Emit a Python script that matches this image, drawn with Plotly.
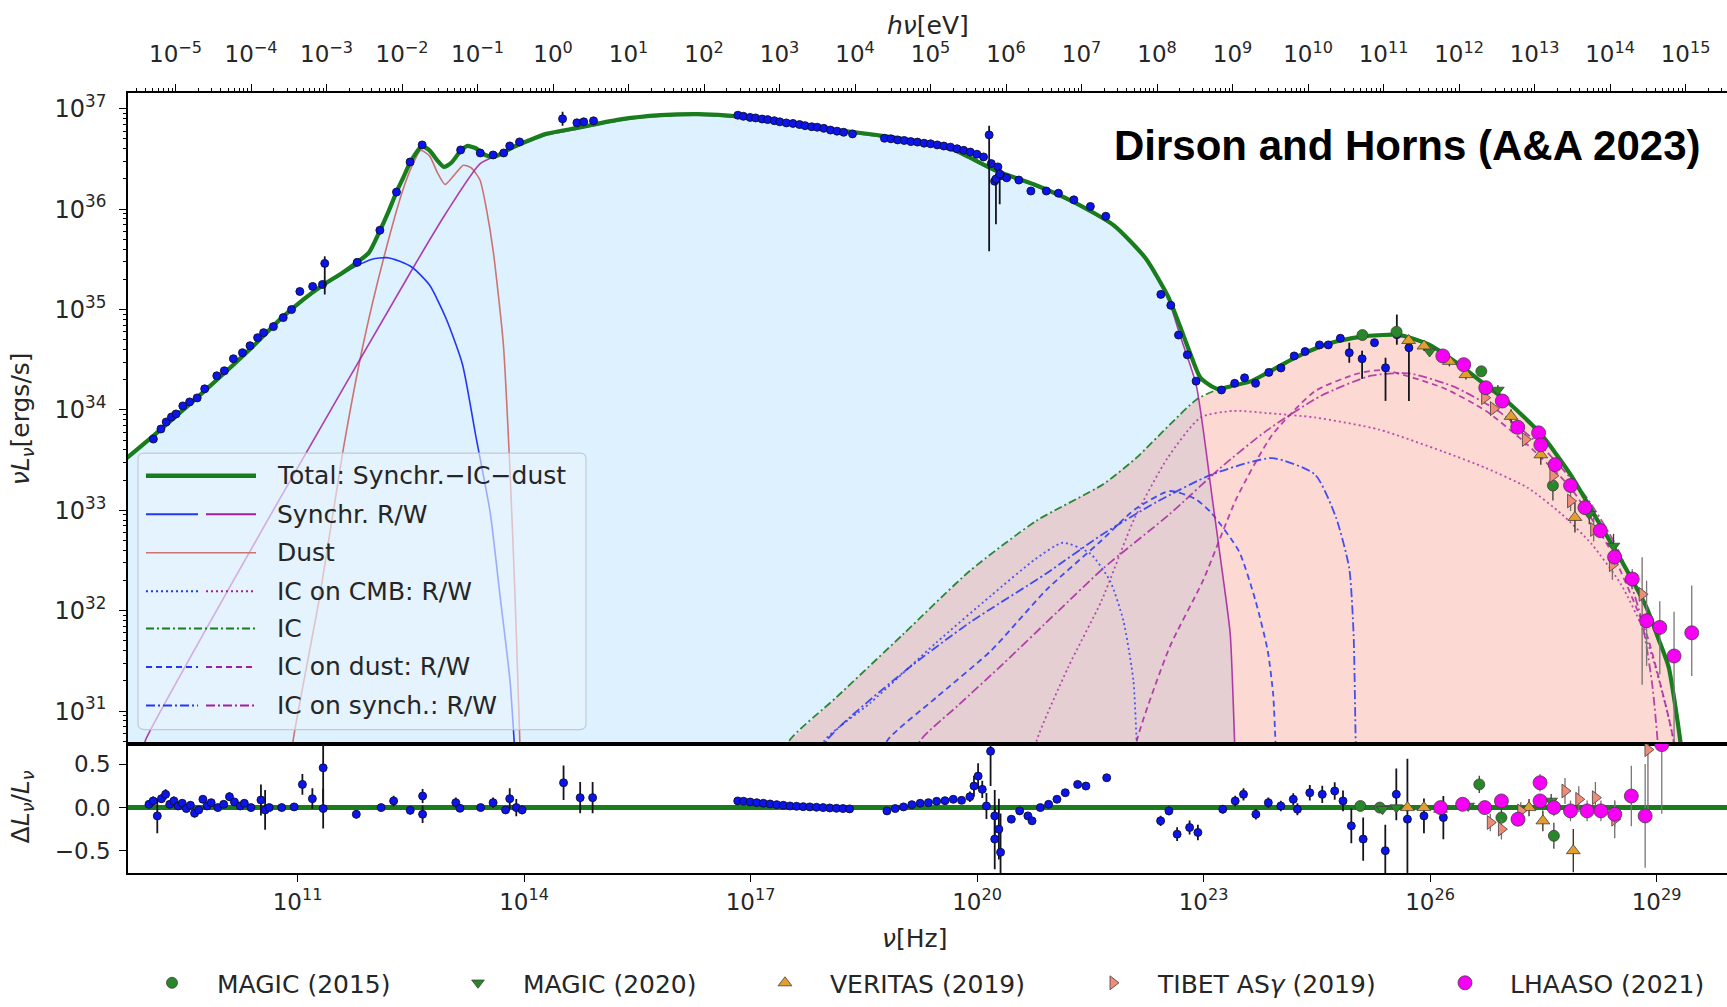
import numpy as np
import plotly.graph_objects as go

# ------------------------------------------------------------------
# Model curves: log10(nu / Hz) and log10(nu L_nu / erg s^-1)
# ------------------------------------------------------------------
total_lognu = [8.736, 9.101, 9.538, 9.976, 10.414, 10.764, 11.070, 11.347, 11.581, 11.785, 11.945, 12.091,
               12.208, 12.310, 12.398, 12.485, 12.573, 12.646, 12.748, 12.850, 12.938, 13.040, 13.142, 13.244,
               13.361, 13.477, 13.594, 13.725, 13.857, 14.061, 14.294, 14.746, 15.257, 15.811, 16.307, 16.832,
               17.620, 18.671, 19.312, 19.706, 20.232, 20.757, 21.282, 21.807, 22.230, 22.537, 22.682, 22.814,
               22.960, 23.178, 23.397, 23.631, 23.908, 24.200, 24.491, 24.754, 25.148, 25.600, 25.994, 26.446,
               26.723, 27.015, 27.467, 27.861, 28.197, 28.532, 28.868, 29.028, 29.160, 29.247, 29.320, 29.38]
total_logL = [33.520, 33.750, 34.035, 34.330, 34.637, 34.900, 35.097, 35.250, 35.359, 35.469, 35.567, 35.786,
              35.983, 36.170, 36.312, 36.454, 36.564, 36.629, 36.586, 36.487, 36.421, 36.465, 36.564, 36.629,
              36.607, 36.542, 36.520, 36.564, 36.618, 36.684, 36.750, 36.816, 36.892, 36.936, 36.947, 36.925,
              36.837, 36.739, 36.662, 36.586, 36.389, 36.246, 36.071, 35.841, 35.513, 35.119, 34.845, 34.582,
              34.319, 34.210, 34.243, 34.287, 34.396, 34.517, 34.615, 34.681, 34.735, 34.746, 34.648, 34.418,
              34.254, 34.089, 33.761, 33.356, 32.929, 32.502, 32.031, 31.714, 31.440, 31.057, 30.674, 30.3]

syncR_lognu = [8.736, 9.101, 9.538, 9.976, 10.414, 10.764, 11.070, 11.347, 11.581, 11.785, 11.989, 12.179,
               12.354, 12.529, 12.748, 12.967, 13.185, 13.361, 13.550, 13.681, 13.813, 13.871, 13.90]
syncR_logL = [33.520, 33.750, 34.035, 34.330, 34.637, 34.889, 35.086, 35.239, 35.349, 35.436, 35.502, 35.517,
              35.480, 35.414, 35.244, 34.911, 34.451, 33.739, 32.984, 32.152, 31.309, 30.674, 30.3]

syncW_lognu = [8.955, 8.984, 10.764, 12.529, 12.967, 13.419, 13.696, 14.061, 14.294, 14.746, 15.257, 15.811,
               16.307, 16.832, 17.620, 18.671, 19.312, 19.706, 20.232, 20.757, 21.282, 21.807, 22.230, 22.537,
               22.682, 22.901, 23.120, 23.251, 23.353, 23.412, 23.43]
syncW_logL = [30.619, 30.707, 33.115, 35.414, 35.962, 36.454, 36.553, 36.673, 36.739, 36.805, 36.881, 36.925,
              36.936, 36.914, 36.826, 36.728, 36.651, 36.575, 36.378, 36.235, 36.060, 35.830, 35.502, 35.097,
              34.757, 34.254, 33.093, 32.371, 31.768, 30.674, 30.3]

dust_lognu = [10.910, 10.939, 11.296, 11.606, 11.871, 12.135, 12.401, 12.544, 12.631, 12.748, 12.850, 12.952,
              13.069, 13.196, 13.302, 13.416, 13.506, 13.592, 13.725, 13.813, 13.880, 13.944, 13.959]
dust_logL = [30.400, 30.696, 32.152, 33.613, 34.659, 35.496, 36.207, 36.476, 36.586, 36.531, 36.367, 36.246,
             36.334, 36.437, 36.410, 36.290, 35.983, 35.578, 34.659, 33.404, 32.152, 30.696, 30.400]

ic_lognu = [17.416, 17.499, 18.139, 19.024, 19.906, 20.786, 21.671, 22.113, 22.556, 22.908, 23.172, 23.397,
            23.631, 23.908, 24.200, 24.491, 24.754, 25.148, 25.600, 25.994, 26.446, 26.723, 27.015, 27.467,
            27.861, 28.197, 28.532, 28.868, 29.028, 29.160, 29.247, 29.320, 29.38]
ic_logL = [30.400, 30.691, 31.139, 31.768, 32.398, 32.896, 33.260, 33.525, 33.856, 34.105, 34.199, 34.243,
           34.287, 34.396, 34.517, 34.615, 34.681, 34.735, 34.746, 34.648, 34.418, 34.254, 34.089, 33.761,
           33.356, 32.929, 32.502, 32.031, 31.714, 31.440, 31.057, 30.674, 30.3]

icCmbR_lognu = [17.927, 17.970, 18.583, 19.458, 20.188, 20.771, 21.136, 21.501, 21.763, 21.938, 22.070, 22.113, 22.128]
icCmbR_logL = [30.400, 30.696, 31.079, 31.681, 32.152, 32.513, 32.677, 32.568, 32.294, 31.900, 31.309, 30.696, 30.400]

icSynR_lognu = [17.927, 18.000, 19.021, 19.896, 20.917, 21.647, 22.376, 23.105, 23.908, 24.477, 24.754, 24.929,
                24.987, 25.016, 25.031]
icSynR_logL = [30.400, 30.696, 31.385, 31.878, 32.371, 32.754, 33.082, 33.356, 33.520, 33.356, 32.929, 32.425,
               31.768, 30.674, 30.400]

icDustR_lognu = [18.729, 18.802, 19.458, 20.188, 20.917, 21.647, 22.084, 22.551, 22.887, 23.105, 23.470, 23.689,
                 23.849, 23.922, 23.952, 23.966]
icDustR_logL = [30.400, 30.696, 31.134, 31.604, 32.207, 32.699, 33.006, 33.192, 33.115, 32.973, 32.590, 32.097,
                31.604, 31.166, 30.696, 30.400]

icCmbW_lognu = [20.742, 20.786, 21.209, 21.647, 22.084, 22.522, 22.960, 23.397, 23.835, 24.477, 25.323, 26.169,
                26.738, 27.292, 27.744, 28.138, 28.532, 28.809, 28.984, 29.160, 29.232, 29.247]
icCmbW_logL = [30.400, 30.696, 31.440, 32.097, 32.918, 33.520, 33.925, 33.991, 33.969, 33.925, 33.805, 33.586,
               33.422, 33.225, 32.962, 32.666, 32.259, 31.834, 31.440, 30.936, 30.674, 30.400]

icSynW_lognu = [19.166, 19.239, 19.750, 20.348, 21.063, 21.676, 22.551, 23.222, 23.835, 24.564, 25.221, 25.731,
                26.315, 26.898, 27.482, 28.065, 28.503, 28.795, 28.941, 29.014, 29.028]
icSynW_logL = [30.400, 30.696, 31.057, 31.473, 31.988, 32.425, 32.962, 33.422, 33.794, 34.144, 34.341, 34.363,
               34.232, 33.991, 33.630, 33.137, 32.590, 31.933, 31.276, 30.696, 30.400]

icDustW_lognu = [22.084, 22.113, 22.551, 22.989, 23.441, 23.908, 24.477, 25.045, 25.381, 26.169, 26.738, 27.292,
                 27.861, 28.415, 28.868, 29.160, 29.232, 29.247]
icDustW_logL = [30.400, 30.696, 31.637, 32.294, 33.126, 33.750, 34.188, 34.363, 34.396, 34.221, 33.991, 33.652,
                33.225, 32.568, 31.768, 30.936, 30.674, 30.400]

# ------------------------------------------------------------------
# Measured SED points (log10 units)
# ------------------------------------------------------------------
radio_lognu = [9.09, 9.19, 9.26, 9.33, 9.39, 9.48, 9.57, 9.67, 9.77, 9.93, 10.03, 10.15, 10.27, 10.37, 10.47,
               10.55, 10.68, 10.81, 10.92, 11.03, 11.20, 11.33, 11.79, 12.09, 12.31, 12.49, 12.65, 13.16, 13.42,
               13.59, 13.73, 13.81, 13.94, 14.70, 14.79, 14.92]
radio_logL = [33.71, 33.81, 33.88, 33.93, 33.96, 34.04, 34.08, 34.12, 34.21, 34.34, 34.39, 34.51, 34.57, 34.64,
              34.72, 34.77, 34.83, 34.92, 35.00, 35.18, 35.23, 35.25, 35.47, 35.79, 36.17, 36.47, 36.64, 36.59,
              36.56, 36.54, 36.56, 36.63, 36.67, 36.86, 36.87, 36.88]

xray_lognu = [16.832, 16.905, 16.993, 17.066, 17.153, 17.226, 17.314, 17.387, 17.474, 17.562, 17.649, 17.722,
              17.810, 17.883, 17.970, 18.058, 18.145, 18.233, 18.350,
              18.773, 18.860, 18.948, 19.035, 19.123, 19.210, 19.298, 19.385, 19.473, 19.560, 19.648, 19.735,
              19.823, 19.910, 19.998, 20.086,
              20.188, 20.232, 20.276, 20.319, 20.392, 20.553, 20.713, 20.917, 21.078, 21.282, 21.501, 21.705,
              22.434, 22.566, 22.668, 22.785, 22.901, 23.237, 23.412, 23.543, 23.689, 23.864, 24.025, 24.200,
              24.345, 24.535, 24.652, 24.812, 25.264]
xray_logL = [36.936, 36.925, 36.914, 36.909, 36.898, 36.892, 36.881, 36.870, 36.859, 36.854, 36.843, 36.832,
             36.821, 36.816, 36.805, 36.788, 36.777, 36.766, 36.750,
             36.706, 36.701, 36.690, 36.684, 36.673, 36.668, 36.657, 36.651, 36.640, 36.629, 36.618, 36.602,
             36.586, 36.569, 36.547, 36.520,
             36.454, 36.279, 36.421, 36.334, 36.312, 36.290, 36.181, 36.181, 36.159, 36.093, 36.027, 35.929,
             35.151, 35.042, 34.746, 34.549, 34.287, 34.199, 34.265, 34.320, 34.265, 34.374, 34.418, 34.538,
             34.582, 34.648, 34.648, 34.714, 34.670]

# points with visible error bars (dex above / below)
errpts_lognu = [11.36, 14.51, 20.16, 20.25, 20.30, 24.93, 25.10, 25.41, 25.56, 25.72]
errpts_logL = [35.46, 36.90, 36.74, 36.30, 36.35, 34.57, 34.51, 34.42, 34.75, 34.62]
errpts_up = [0.07, 0.07, 0.09, 0.05, 0.05, 0.10, 0.08, 0.10, 0.20, 0.10]
errpts_dn = [0.31, 0.07, 1.16, 0.45, 0.30, 0.10, 0.20, 0.33, 0.10, 0.53]

# very-high-energy gamma-ray data sets
magic15_lognu = [25.104, 25.556, 26.679, 27.627]
magic15_logL = [34.746, 34.779, 34.385, 33.247]
magic15_err = [0.05, 0.05, 0.05, 0.15]

magic20_lognu = [25.994, 26.898, 28.109, 28.430]
magic20_logL = [34.582, 34.199, 32.962, 32.645]
magic20_err = [0.04, 0.05, 0.10, 0.12]

veritas_lognu = [25.716, 25.920, 26.256, 26.475, 26.752, 27.073, 27.467, 27.919]
veritas_logL = [34.692, 34.637, 34.484, 34.352, 34.210, 33.936, 33.553, 32.929]
veritas_err = [0.05, 0.05, 0.05, 0.05, 0.06, 0.07, 0.10, 0.15]

tibet_lognu = [26.723, 26.840, 27.263, 27.627, 27.861, 28.167, 28.415, 28.809]
tibet_logL = [34.122, 34.013, 33.706, 33.345, 33.093, 32.809, 32.458, 32.163]
tibet_up = [0.05, 0.05, 0.06, 0.08, 0.10, 0.12, 0.15, 0.37]
tibet_dn = [0.05, 0.05, 0.06, 0.08, 0.10, 0.12, 0.15, 0.90]

lhaaso_lognu = [26.169, 26.446, 26.738, 26.957, 27.161, 27.438, 27.467, 27.657, 27.861, 28.051, 28.255, 28.444,
                28.678, 28.868, 29.043, 29.232, 29.466]
lhaaso_logL = [34.538, 34.451, 34.221, 34.089, 33.827, 33.772, 33.652, 33.455, 33.247, 33.027, 32.798, 32.535,
               32.316, 31.900, 31.834, 31.549, 31.780]
lhaaso_up = [0.03, 0.03, 0.03, 0.03, 0.04, 0.04, 0.04, 0.05, 0.05, 0.06, 0.07, 0.08, 0.10, 0.40, 0.26, 0.44, 0.47]
lhaaso_dn = [0.03, 0.03, 0.03, 0.03, 0.04, 0.04, 0.04, 0.05, 0.05, 0.06, 0.07, 0.08, 0.10, 0.45, 0.47, 1.00, 0.43]

# ------------------------------------------------------------------
# Residuals (Delta L / L)
# ------------------------------------------------------------------
resR_lognu = [9.032, 9.087, 9.142, 9.197, 9.252, 9.307, 9.362, 9.417, 9.472, 9.527, 9.581, 9.636, 9.691, 9.746,
              9.801, 9.856, 9.944, 10.021, 10.098, 10.164, 10.240, 10.295, 10.383, 10.515, 10.570, 10.625, 10.790,
              10.954, 11.064, 11.196, 11.339, 11.339, 11.778, 12.107, 12.272, 12.492, 12.656, 12.656, 13.096,
              13.151, 13.425, 13.590, 13.755, 13.810, 13.897, 13.974, 14.523, 14.743, 14.908]
resR_val = [0.038, 0.077, -0.096, 0.103, 0.153, 0.038, 0.077, 0.019, 0.050, -0.011, 0.027, -0.065, -0.027, 0.096,
            0.019, 0.057, 0.0, 0.038, 0.126, 0.065, 0.019, 0.050, 0.0, 0.088, -0.027, 0.0, 0.0, 0.008, 0.268,
            0.103, 0.460, -0.011, -0.077, 0.0, 0.077, -0.031, 0.134, -0.077, 0.057, -0.008, 0.0, 0.057, -0.027,
            0.103, 0.0, -0.027, 0.287, 0.115, 0.115]
resR_err = [0.04, 0.05, 0.20, 0.05, 0.06, 0.04, 0.05, 0.04, 0.04, 0.04, 0.04, 0.05, 0.04, 0.04, 0.04, 0.04, 0.04,
            0.04, 0.05, 0.04, 0.04, 0.04, 0.04, 0.18, 0.23, 0.04, 0.04, 0.04, 0.12, 0.12, 0.40, 0.23, 0.05, 0.04,
            0.06, 0.05, 0.08, 0.10, 0.06, 0.04, 0.04, 0.06, 0.04, 0.12, 0.10, 0.05, 0.20, 0.18, 0.18]

resX_lognu = [16.830, 16.907, 16.994, 17.082, 17.170, 17.258, 17.346, 17.434, 17.522, 17.609, 17.697, 17.785,
              17.873, 17.961, 18.049, 18.137, 18.224, 18.312,
              18.806, 18.916, 19.026, 19.136, 19.246, 19.355, 19.465, 19.575, 19.685, 19.795, 19.905, 19.959,
              20.014, 20.069,
              20.124, 20.179, 20.234, 20.289, 20.234, 20.311,
              20.454, 20.564, 20.673, 20.728, 20.838, 20.948, 21.058, 21.168, 21.332, 21.442, 21.717]
resX_val = [0.077, 0.073, 0.065, 0.057, 0.050, 0.042, 0.034, 0.027, 0.019, 0.015, 0.011, 0.008, 0.004, 0.0,
            -0.004, -0.008, -0.011, -0.015,
            -0.038, -0.011, 0.008, 0.034, 0.050, 0.057, 0.073, 0.080, 0.096, 0.084, 0.126, 0.249, 0.364, 0.211,
            0.019, 0.651, -0.096, -0.249, -0.364, -0.517,
            -0.134, -0.038, -0.096, -0.153, 0.0, 0.038, 0.096, 0.172, 0.268, 0.249, 0.345]
resX_err = [0.01, 0.01, 0.01, 0.01, 0.01, 0.01, 0.01, 0.01, 0.01, 0.01, 0.01, 0.01, 0.01, 0.01, 0.01, 0.01, 0.01,
            0.01,
            0.02, 0.02, 0.02, 0.02, 0.02, 0.03, 0.03, 0.03, 0.04, 0.04, 0.06, 0.12, 0.15, 0.10,
            0.15, 0.40, 0.30, 0.35, 0.35, 0.45,
            0.04, 0.04, 0.04, 0.04, 0.03, 0.03, 0.03, 0.03, 0.03, 0.03, 0.03]

resG_lognu = [22.431, 22.541, 22.650, 22.815, 22.925, 23.254, 23.419, 23.529, 23.693, 23.858, 24.023, 24.188,
              24.243, 24.407, 24.572, 24.737, 24.847, 24.957, 25.114, 25.407, 25.553, 25.700, 25.919, 26.176]
resG_val = [-0.153, -0.038, -0.307, -0.230, -0.287, -0.019, 0.077, 0.153, -0.077, 0.057, 0.019, 0.096, -0.019,
            0.172, 0.153, 0.192, 0.077, -0.211, -0.364, -0.498, 0.153, -0.134, -0.096, -0.115]
resG_err = [0.06, 0.05, 0.08, 0.08, 0.09, 0.05, 0.06, 0.07, 0.06, 0.06, 0.06, 0.07, 0.07, 0.09, 0.10, 0.10, 0.12,
            0.20, 0.25, 0.30, 0.30, 0.70, 0.20, 0.25]

resM15_lognu = [25.077, 25.334, 26.652, 26.945, 27.640]
resM15_val = [0.019, 0.0, 0.268, -0.115, -0.326]
resM15_err = [0.05, 0.05, 0.10, 0.10, 0.15]

resM20_lognu = [25.370, 25.553, 26.505, 27.604]
resM20_val = [-0.019, 0.0, 0.019, 0.077]
resM20_err = [0.04, 0.04, 0.05, 0.08]

resV_lognu = [25.700, 25.919, 26.139, 27.311, 27.494, 27.897]
resV_val = [0.0, 0.0, -0.019, 0.0, -0.153, -0.498]
resV_err = [0.05, 0.05, 0.05, 0.10, 0.12, 0.25]

resL_lognu = [26.139, 26.432, 26.725, 26.945, 27.165, 27.457, 27.457, 27.640, 27.860, 28.080, 28.263, 28.446,
              28.666, 28.849, 29.069]
resL_val = [0.0, 0.038, 0.0, 0.077, -0.134, 0.287, 0.077, 0.0, -0.038, -0.038, -0.038, -0.077, 0.134, -0.096,
            0.728]
resL_err = [0.04, 0.04, 0.05, 0.06, 0.07, 0.10, 0.08, 0.10, 0.12, 0.12, 0.12, 0.15, 0.35, 0.60, 0.80]

resT_lognu = [26.798, 26.945, 27.201, 27.787, 27.970, 28.190, 28.446, 28.886]
resT_val = [-0.172, -0.249, -0.038, 0.192, 0.096, 0.115, -0.134, 0.670]
resT_err = [0.10, 0.12, 0.10, 0.15, 0.15, 0.18, 0.22, 0.70]

# photon energy of 1 eV expressed as a frequency (Hz)
EV_IN_HZ = 2.418e14

# ------------------------------------------------------------------
W, H = 1727, 1007
FONT = "DejaVu Sans"
TXT = "#262626"

BLUE = "rgb(35,55,245)"
PURPLE = "rgb(165,30,160)"
GREEN = "rgb(25,125,30)"
DUSTC = "rgb(205,115,115)"

DOT = "2px,3px"
DASH = "6px,4px"
DASHDOT = "9px,3px,2px,3px"
ICDASHDOT = "8px,3px,2px,3px"


def lin(a):
    return np.power(10.0, np.asarray(a, dtype=float))


def log_err(logy, up, dn, color, width=1.4):
    y = lin(logy)
    return dict(type="data", symmetric=False,
                array=lin(np.asarray(logy) + np.asarray(up)) - y,
                arrayminus=y - lin(np.asarray(logy) - np.asarray(dn)),
                color=color, thickness=width, width=0)


def res_err(err, color, width=1.4):
    return dict(type="data", array=err, color=color, thickness=width, width=0)


fig = go.Figure()

# ---- shaded areas: synchrotron + dust (blue) and inverse Compton (salmon)
sd_pairs = [(a, b) for a, b in zip(total_lognu, total_logL) if a <= 22.7] + \
           [(a, b) for a, b in zip(syncW_lognu, syncW_logL) if a >= 22.85]
sd_x = [p[0] for p in sd_pairs]
sd_y = [p[1] for p in sd_pairs]
fig.add_trace(go.Scatter(x=lin(sd_x + [sd_x[-1], sd_x[0]]), y=lin(sd_y + [29.5, 29.5]),
                         fill="toself", fillcolor="rgba(135,206,250,0.28)", mode="none",
                         showlegend=False, hoverinfo="skip", xaxis="x", yaxis="y"))
fig.add_trace(go.Scatter(x=lin(ic_lognu + [ic_lognu[-1], ic_lognu[0]]), y=lin(ic_logL + [29.5, 29.5]),
                         fill="toself", fillcolor="rgba(250,128,114,0.30)", mode="none",
                         showlegend=False, hoverinfo="skip", xaxis="x", yaxis="y"))


def curve(xs, ys, color, width, dash="solid", opacity=1.0):
    fig.add_trace(go.Scatter(x=lin(xs), y=lin(ys), mode="lines",
                             line=dict(color=color, width=width, dash=dash, shape="spline", smoothing=0.6),
                             opacity=opacity, showlegend=False, hoverinfo="skip",
                             xaxis="x", yaxis="y"))


# ---- model components
curve(icCmbR_lognu, icCmbR_logL, BLUE, 1.8, DOT, 0.8)
curve(icDustR_lognu, icDustR_logL, BLUE, 1.8, DASH, 0.85)
curve(icSynR_lognu, icSynR_logL, BLUE, 1.8, DASHDOT, 0.85)
curve(icCmbW_lognu, icCmbW_logL, PURPLE, 1.8, DOT, 0.75)
curve(icDustW_lognu, icDustW_logL, PURPLE, 1.8, DASH, 0.8)
curve(icSynW_lognu, icSynW_logL, PURPLE, 1.8, DASHDOT, 0.8)
curve(ic_lognu, ic_logL, GREEN, 1.8, ICDASHDOT, 0.9)
curve(dust_lognu, dust_logL, DUSTC, 1.6)
curve(syncW_lognu, syncW_logL, PURPLE, 1.6, "solid", 0.85)
curve(syncR_lognu, syncR_logL, BLUE, 1.6)
curve(total_lognu, total_logL, GREEN, 4.2)

# ---- measured points, upper panel
BLUE_MK = dict(color="rgb(10,20,235)", size=8, line=dict(color="rgb(15,15,50)", width=0.9))
fig.add_trace(go.Scatter(x=lin(radio_lognu), y=lin(radio_logL), mode="markers", marker=BLUE_MK,
                         showlegend=False, hoverinfo="skip", xaxis="x", yaxis="y"))
fig.add_trace(go.Scatter(x=lin(xray_lognu), y=lin(xray_logL), mode="markers", marker=BLUE_MK,
                         showlegend=False, hoverinfo="skip", xaxis="x", yaxis="y"))
fig.add_trace(go.Scatter(x=lin(errpts_lognu), y=lin(errpts_logL), mode="markers", marker=BLUE_MK,
                         error_y=log_err(errpts_logL, errpts_up, errpts_dn, "rgb(20,20,30)", 1.8),
                         showlegend=False, hoverinfo="skip", xaxis="x", yaxis="y"))

SETS = [
    ("MAGIC (2015)", "circle", "rgb(40,135,40)", 11, "rgb(60,60,60)",
     magic15_lognu, magic15_logL, magic15_err, magic15_err, resM15_lognu, resM15_val, resM15_err),
    ("MAGIC (2020)", "triangle-down", "rgb(40,135,40)", 11, "rgb(60,60,60)",
     magic20_lognu, magic20_logL, magic20_err, magic20_err, resM20_lognu, resM20_val, resM20_err),
    ("VERITAS (2019)", "triangle-up", "rgb(225,160,45)", 12, "rgb(50,40,20)",
     veritas_lognu, veritas_logL, veritas_err, veritas_err, resV_lognu, resV_val, resV_err),
    ("TIBET AS<i>γ</i> (2019)", "triangle-right", "rgb(238,140,122)", 12, "rgb(120,110,110)",
     tibet_lognu, tibet_logL, tibet_up, tibet_dn, resT_lognu, resT_val, resT_err),
    ("LHAASO (2021)", "circle", "rgb(245,0,245)", 14, "rgb(120,120,120)",
     lhaaso_lognu, lhaaso_logL, lhaaso_up, lhaaso_dn, resL_lognu, resL_val, resL_err),
]
LEG_IDS = ["legend", "legend2", "legend3", "legend4", "legend5"]
LEG_MARKER_X = [174, 480, 787, 1115, 1467]   # marker centres of the bottom key (px)

for (name, sym, col, size, ecol, lx, ly, up, dn, rx, rv, re), lid in zip(SETS, LEG_IDS):
    mk = dict(symbol=sym, color=col, size=size, line=dict(color="rgb(70,60,60)", width=0.8))
    fig.add_trace(go.Scatter(x=lin(lx), y=lin(ly), mode="markers", marker=mk, name=name,
                             legend=lid, legendgroup=name, error_y=log_err(ly, up, dn, ecol, 1.3),
                             hoverinfo="skip", xaxis="x", yaxis="y"))

# ---- residual panel
for rx, rv, re in [(resR_lognu, resR_val, resR_err), (resX_lognu, resX_val, resX_err),
                   (resG_lognu, resG_val, resG_err)]:
    fig.add_trace(go.Scatter(x=lin(rx), y=rv, mode="markers", marker=BLUE_MK,
                             error_y=res_err(re, "rgb(20,20,30)", 1.8),
                             showlegend=False, hoverinfo="skip", xaxis="x3", yaxis="y3"))
for name, sym, col, size, ecol, lx, ly, up, dn, rx, rv, re in SETS:
    mk = dict(symbol=sym, color=col, size=size, line=dict(color="rgb(70,60,60)", width=0.8))
    fig.add_trace(go.Scatter(x=lin(rx), y=rv, mode="markers", marker=mk, name=name,
                             legendgroup=name, showlegend=False,
                             error_y=res_err(re, ecol, 1.3),
                             hoverinfo="skip", xaxis="x3", yaxis="y3"))

# ------------------------------------------------------------------
# axes
# ------------------------------------------------------------------
XL, XR = 8.754, 29.933
dom_x = [128 / W, 1.0]
main_dom = [1 - 743.4 / H, 1 - 91.4 / H]
res_dom = [1 - 873.0 / H, 1 - 743.4 / H]
TICKF = dict(family=FONT, size=23, color=TXT)
LABF = dict(family=FONT, size=25, color=TXT)


def sup(k):
    return "10<sup>%s</sup>" % (("−%d" % -k) if k < 0 else "%d" % k)


ev_major = list(range(-5, 16))
ev_minor = [m * 10.0 ** k for k in range(-6, 16) for m in range(2, 10)]
L_major = list(range(31, 38))
L_minor = [m * 10.0 ** k for k in range(30, 38) for m in range(2, 10)]
nu_major = [11, 14, 17, 20, 23, 26, 29]

# invisible carrier so that the photon-energy axis is drawn on top
fig.add_trace(go.Scatter(x=[10.0 ** k for k in ev_major], y=lin([L_major[0]] * len(ev_major)),
                         mode="markers", marker=dict(opacity=0), showlegend=False, hoverinfo="skip",
                         xaxis="x2", yaxis="y"))

legends = {}
for lid, mx in zip(LEG_IDS, LEG_MARKER_X):
    legends[lid] = dict(orientation="h", x=(mx - 47) / W, xanchor="left", y=1 - 983 / H, yanchor="middle",
                        font=LABF, bgcolor="rgba(0,0,0,0)", borderwidth=0, itemwidth=80)

fig.update_layout(
    width=W, height=H,
    margin=dict(l=0, r=0, t=0, b=0),
    paper_bgcolor="white", plot_bgcolor="white",
    font=dict(family=FONT, size=23, color=TXT),
    xaxis=dict(type="log", range=[XL, XR], domain=dom_x, anchor="y",
               showline=True, linecolor="black", linewidth=1.6, ticks="",
               showticklabels=False, showgrid=False, zeroline=False),
    xaxis2=dict(type="log", range=[XL - np.log10(EV_IN_HZ), XR - np.log10(EV_IN_HZ)],
                overlaying="x", side="top", anchor="y",
                tickmode="array", tickvals=[10.0 ** k for k in ev_major], ticktext=[sup(k) for k in ev_major],
                ticks="outside", ticklen=7, tickwidth=1.3, tickcolor="black", ticklabelstandoff=13,
                minor=dict(tickmode="array", tickvals=ev_minor, ticks="outside", ticklen=3.5,
                           tickwidth=1, tickcolor="black"),
                showline=True, linecolor="black", linewidth=1.6, showgrid=False, zeroline=False,
                tickfont=TICKF),
    yaxis=dict(type="log", range=[30.673, 37.155], domain=main_dom, anchor="x",
               tickmode="array", tickvals=[10.0 ** k for k in L_major], ticktext=[sup(k) for k in L_major],
               ticks="outside", ticklen=7, tickwidth=1.3, tickcolor="black", ticklabelstandoff=8,
               minor=dict(tickmode="array", tickvals=L_minor, ticks="outside", ticklen=3.5,
                          tickwidth=1, tickcolor="black"),
               showline=True, linecolor="black", linewidth=1.6, showgrid=False, zeroline=False,
               tickfont=dict(family=FONT, size=24, color=TXT)),
    xaxis3=dict(type="log", range=[XL, XR], domain=dom_x, anchor="y3",
                tickmode="array", tickvals=[10.0 ** k for k in nu_major], ticktext=[sup(k) for k in nu_major],
                ticks="outside", ticklen=7, tickwidth=1.3, tickcolor="black",
                showline=True, linecolor="black", linewidth=1.6, mirror=True, showgrid=False,
                zeroline=False, tickfont=TICKF),
    yaxis3=dict(range=[-0.759, 0.736], domain=res_dom, anchor="x3",
                tickmode="array", tickvals=[-0.5, 0.0, 0.5], ticktext=["−0.5", "0.0", "0.5"],
                ticks="outside", ticklen=7, tickwidth=1.3, tickcolor="black", ticklabelstandoff=4,
                showline=True, linecolor="black", linewidth=1.6, showgrid=False,
                zeroline=True, zerolinecolor=GREEN, zerolinewidth=5, tickfont=TICKF),
    showlegend=True,
    **legends,
)

# ------------------------------------------------------------------
# in-panel key of the model components
# ------------------------------------------------------------------
def px(x):
    return x / W


def py(y):
    return 1 - y / H


shapes = []
bx0, bx1, by0, by1, r = 138, 586, 452, 729, 6
path = ("M %f,%f L %f,%f Q %f,%f %f,%f L %f,%f Q %f,%f %f,%f L %f,%f Q %f,%f %f,%f L %f,%f Q %f,%f %f,%f Z" % (
    px(bx0 + r), py(by0), px(bx1 - r), py(by0), px(bx1), py(by0), px(bx1), py(by0 + r),
    px(bx1), py(by1 - r), px(bx1), py(by1), px(bx1 - r), py(by1),
    px(bx0 + r), py(by1), px(bx0), py(by1), px(bx0), py(by1 - r),
    px(bx0), py(by0 + r), px(bx0), py(by0), px(bx0 + r), py(by0)))
shapes.append(dict(type="path", path=path, xref="paper", yref="paper", layer="above",
                   fillcolor="rgba(232,244,253,0.62)", line=dict(color="rgba(190,200,205,0.9)", width=1.2)))

rows = [
    ("Total: Synchr.−IC−dust", [(GREEN, 4.5, "solid", 146, 256)]),
    ("Synchr. R/W", [(BLUE, 2, "solid", 146, 198), (PURPLE, 2, "solid", 206, 256)]),
    ("Dust", [(DUSTC, 1.6, "solid", 146, 256)]),
    ("IC on CMB: R/W", [(BLUE, 2, DOT, 146, 198), (PURPLE, 2, DOT, 206, 256)]),
    ("IC", [(GREEN, 2, ICDASHDOT, 146, 256)]),
    ("IC on dust: R/W", [(BLUE, 2, DASH, 146, 198), (PURPLE, 2, DASH, 206, 256)]),
    ("IC on synch.: R/W", [(BLUE, 2, DASHDOT, 146, 198), (PURPLE, 2, DASHDOT, 206, 256)]),
]
row_y = [474.7, 513.3, 551.8, 590.3, 627.8, 666.3, 704.9]
annotations = []
for (label, segs), yy in zip(rows, row_y):
    for col, w, dash, xa, xb in segs:
        shapes.append(dict(type="line", xref="paper", yref="paper", layer="above",
                           x0=px(xa), x1=px(xb), y0=py(yy), y1=py(yy),
                           line=dict(color=col, width=w, dash=dash)))
    annotations.append(dict(text=label, x=px(275), y=py(yy), xref="paper", yref="paper",
                            xanchor="left", yanchor="middle", showarrow=False, font=LABF))

# axis titles and headline
annotations += [
    dict(text="<i>νL</i><sub><i>ν</i></sub>[ergs/s]", x=px(22), y=py(418), xref="paper", yref="paper",
         xanchor="center", yanchor="middle", textangle=-90, showarrow=False, font=LABF),
    dict(text="Δ<i>L</i><sub><i>ν</i></sub>/<i>L</i><sub><i>ν</i></sub>", x=px(22), y=py(807),
         xref="paper", yref="paper", xanchor="center", yanchor="middle", textangle=-90,
         showarrow=False, font=LABF),
    dict(text="<i>ν</i>[Hz]", x=px(914), y=py(938), xref="paper", yref="paper",
         xanchor="center", yanchor="middle", showarrow=False, font=LABF),
    dict(text="<i>hν</i>[eV]", x=px(928), y=py(24), xref="paper", yref="paper",
         xanchor="center", yanchor="middle", showarrow=False, font=LABF),
    dict(text="<b>Dirson and Horns (A&amp;A 2023)</b>", x=px(1703), y=py(144), xref="paper", yref="paper",
         xanchor="right", yanchor="middle", showarrow=False,
         font=dict(family="Liberation Sans Narrow, Liberation Sans, sans-serif", size=42, color="black")),
]

fig.update_layout(shapes=shapes, annotations=annotations)

fig.write_html("out.html")
